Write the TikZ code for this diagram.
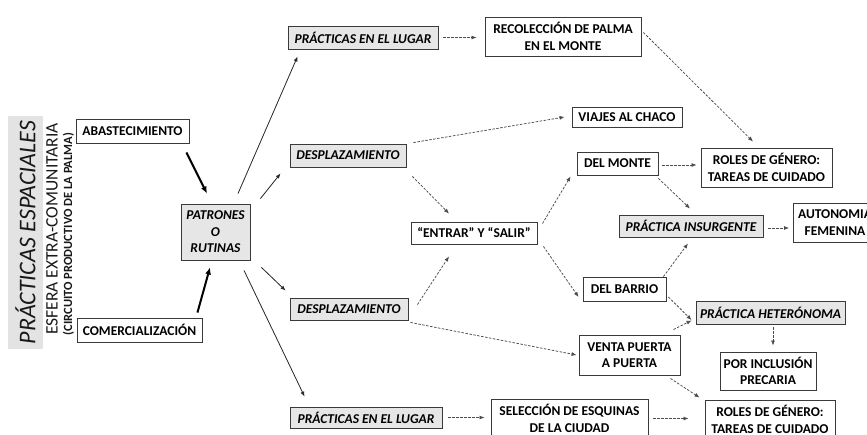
\documentclass[tikz,border=0pt]{standalone}
\usepackage{fontspec}
\setmainfont{Carlito}
\usetikzlibrary{arrows.meta,backgrounds}
\definecolor{boxgray}{HTML}{E6E6E6}
\definecolor{bandgray}{HTML}{E3E3E3}
\definecolor{edge}{HTML}{3A3A3A}
\tikzset{
 box/.style={draw=edge, line width=0.9pt, fill=white, align=center, inner sep=0pt, font=\fontsize{13.5}{16.5}\selectfont\bfseries},
 gbox/.style={box, fill=boxgray, font=\fontsize{13.5}{16.5}\selectfont\bfseries\itshape},
 sz/.style 2 args={minimum width=#1pt, minimum height=#2pt},
 solidarrow/.style={draw=black!85, line width=0.8pt, -{Latex[length=5pt,width=4pt]}},
 thickarrow/.style={draw=black, line width=2pt, -{Latex[length=7pt,width=6pt]}},
 dasharrow/.style={draw=black!70, line width=0.75pt, dash pattern=on 2.5pt off 1.5pt, -{Latex[length=5pt,width=4pt]}},
}
\begin{document}
\begin{tikzpicture}[x=1pt,y=-1pt]
\useasboundingbox (0,0) rectangle (867,434);
\clip (0,0) rectangle (867,434);
\fill[white] (0,0) rectangle (867,434);
% left band
\fill[bandgray] (8,116) rectangle (43,349);
\node[rotate=90, text=black!90, font=\fontsize{24}{24}\selectfont\itshape] (title) at (25.5,232.5) {PRÁCTICAS ESPACIALES};
\node[rotate=90, text=black!90, font=\fontsize{17.5}{18}\selectfont] (esfera) at (52,229) {ESFERA EXTRA-COMUNITARIA};
\node[rotate=90, text=black!90, font=\fontsize{12.5}{14}\selectfont\bfseries] (circ) at (68.5,234) {(CIRCUITO PRODUCTIVO DE LA PALMA)};
% nodes
\node[box, sz={113}{24}] (abas) at (132.5,131) {ABASTECIMIENTO};
\node[box, sz={125}{24}] (comer) at (139.5,330) {COMERCIALIZACIÓN};
\node[gbox, sz={69}{56}] (patr) at (215.5,232) {PATRONES\\O\\RUTINAS};
\node[gbox, sz={150}{23}] (pl1) at (363,37.5) {PRÁCTICAS EN EL LUGAR};
\node[gbox, sz={116}{23}] (desp1) at (348,155.5) {DESPLAZAMIENTO};
\node[gbox, sz={118}{22}] (desp2) at (349,309) {DESPLAZAMIENTO};
\node[gbox, sz={152}{21}] (pl2) at (366,417.5) {PRÁCTICAS EN EL LUGAR};
\node[box, sz={156}{39}] (reco) at (563,36.5) {RECOLECCIÓN DE PALMA\\EN EL MONTE};
\node[box, sz={110}{20}] (viajes) at (627,117) {VIAJES AL CHACO};
\node[box, sz={126}{22}] (entrar) at (474,233) {“ENTRAR” Y “SALIR”};
\node[box, sz={81}{23}] (delmonte) at (617.5,163.5) {DEL MONTE};
\node[box, sz={131}{39}] (roles1) at (766.5,167.5) {ROLES DE GÉNERO:\\TAREAS DE CUIDADO};
\node[gbox, sz={144}{22}] (insurg) at (691,226) {PRÁCTICA INSURGENTE};
\node[box, sz={83}{39}] (auton) at (835,222.5) {AUTONOMIA\\FEMENINA};
\node[box, sz={83}{24}] (delbarrio) at (624.5,289) {DEL BARRIO};
\node[gbox, sz={149}{23}] (hetero) at (770.5,312.5) {PRÁCTICA HETERÓNOMA};
\node[box, sz={101}{40}] (venta) at (629.5,355) {VENTA PUERTA\\A PUERTA};
\node[box, sz={96}{38}] (porincl) at (768,371) {POR INCLUSIÓN\\PRECARIA};
\node[box, sz={157}{39}] (selec) at (569.5,418.5) {SELECCIÓN DE ESQUINAS\\DE LA CIUDAD};
\node[box, sz={130}{39}] (roles2) at (770,419.5) {ROLES DE GÉNERO:\\TAREAS DE CUIDADO};
% thick arrows
\draw[thickarrow] ([xshift=-3pt,yshift=-9pt]abas.south east) -- ([xshift=-8.5pt,yshift=10pt]patr.north);
\draw[thickarrow] ([xshift=-5pt,yshift=5pt]comer.north east) -- ([xshift=-5.5pt,yshift=-7pt]patr.south);
% solid arrows
\draw[solidarrow] ([xshift=22.5pt,yshift=10pt]patr.north) -- ([xshift=10pt,yshift=-7pt]pl1.south west);
\draw[solidarrow] ([xshift=10pt,yshift=5pt]patr.north east) -- ([xshift=-9pt,yshift=-6pt]desp1.south west);
\draw[solidarrow] ([xshift=11pt,yshift=-7pt]patr.south east) -- ([xshift=-4pt,yshift=7pt]desp2.north west);
\draw[solidarrow] ([xshift=28.5pt,yshift=-10pt]patr.south) -- ([xshift=15pt,yshift=10pt]pl2.north west);
% dashed arrows
\draw[dasharrow] ([xshift=5pt]pl1.east) -- ([xshift=-8pt]pl1.east -| reco.west);
\draw[dasharrow] ([xshift=2pt,yshift=4pt]reco.east) -- ([xshift=-13.5pt,yshift=6pt]roles1.north);
\draw[dasharrow] ([xshift=7pt,yshift=1pt]desp1.north east) -- ([xshift=-7pt]viajes.west);
\draw[dasharrow] ([xshift=6pt,yshift=-9pt]desp1.south east) -- ([xshift=-25pt,yshift=8pt]entrar.north);
\draw[dasharrow] ([xshift=9pt,yshift=-7pt]desp2.north east) -- ([xshift=-25pt,yshift=-12pt]entrar.south);
\draw[dasharrow] ([xshift=5pt,yshift=-2pt]entrar.north east) -- ([xshift=-6pt,yshift=-1pt]delmonte.south west);
\draw[dasharrow] ([xshift=6pt,yshift=-2pt]entrar.south east) -- ([xshift=-4pt,yshift=-8pt]delbarrio.west);
\draw[dasharrow] ([xshift=4pt,yshift=-1.5pt]delmonte.east) -- ([xshift=-4pt,yshift=-1.5pt]delmonte.east -| roles1.west);
\draw[dasharrow] ([yshift=-3pt]delmonte.south east) -- ([xshift=-1pt,yshift=6pt]insurg.north);
\begin{scope}[on background layer]
\draw[dasharrow] ([xshift=-17.5pt,yshift=3pt]hetero.north) -- ([xshift=-13.5pt,yshift=-6pt]roles1.south);
\end{scope}
\draw[dasharrow] ([xshift=5pt,yshift=-2pt]insurg.east) -- ([xshift=-4pt,yshift=-2pt]insurg.east -| auton.west);
\draw[dasharrow] ([xshift=-3pt]delbarrio.north east) -- ([xshift=-3pt,yshift=-6pt]insurg.south);
\draw[dasharrow] ([xshift=2pt,yshift=-8pt]delbarrio.east) -- ([xshift=-4pt,yshift=-7.5pt]hetero.west);
\draw[dasharrow] ([xshift=-7pt,yshift=5pt]venta.north east) -- ([xshift=-4pt,yshift=4pt]hetero.south west);
\draw[dasharrow] ([xshift=-10pt,yshift=-3pt]venta.south east) -- ([xshift=-5pt,yshift=2pt]roles2.north west);
\draw[dasharrow] ([xshift=2.5pt,yshift=-3pt]hetero.south) -- ([xshift=5pt,yshift=6pt]porincl.north);
\draw[dasharrow] ([xshift=2pt,yshift=-2pt]desp2.south east) -- ([xshift=-2pt]venta.west);
\draw[dasharrow] ([xshift=6pt]pl2.east) -- ([xshift=-6pt]pl2.east -| selec.west);
\draw[dasharrow] ([xshift=5pt]selec.east) -- ([xshift=-16pt]selec.east -| roles2.west);
\end{tikzpicture}
\end{document}
